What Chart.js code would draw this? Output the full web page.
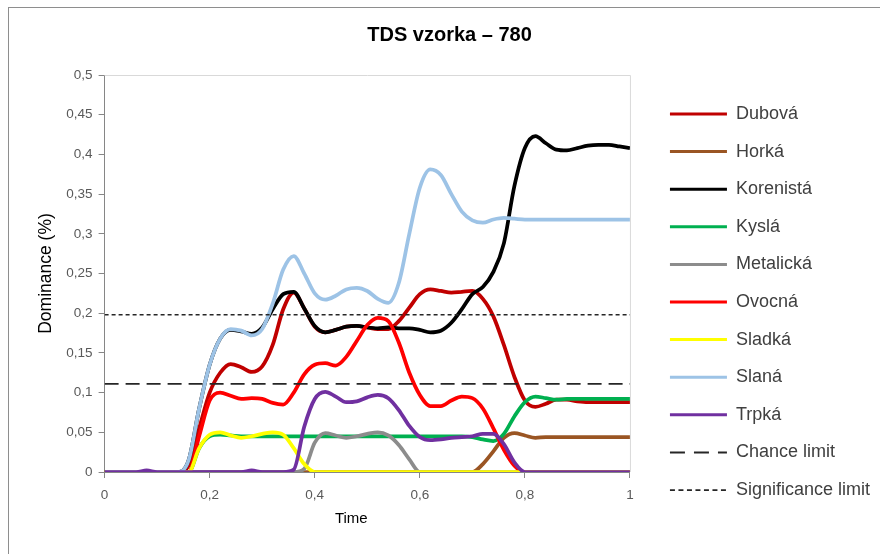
<!DOCTYPE html>
<html>
<head>
<meta charset="utf-8">
<script src="https://cdn.jsdelivr.net/npm/chart.js@4.4.1/dist/chart.umd.min.js"></script>
<style>
  html, body { margin: 0; padding: 0; background: #ffffff; overflow: hidden; width: 880px; height: 554px; }
  #frame { position: absolute; left: 8px; top: 7px; width: 900px; height: 600px; border-left: 1px solid #8e8e8e; border-top: 1px solid #8e8e8e; }
  #c { position: absolute; top: 8px; display: block; }
</style>
</head>
<body>
<div id="frame"></div>
<canvas id="c"></canvas>
<script>
// ---- data ----
const times = [0, 0.02, 0.04, 0.06, 0.08, 0.10, 0.12, 0.14, 0.16, 0.18,
               0.20, 0.22, 0.24, 0.26, 0.28, 0.30, 0.32, 0.34, 0.36, 0.38,
               0.40, 0.42, 0.44, 0.46, 0.48, 0.50, 0.52, 0.54, 0.56, 0.58,
               0.60, 0.62, 0.64, 0.66, 0.68, 0.70, 0.72, 0.74, 0.76, 0.78,
               0.80, 0.82, 0.84, 0.86, 0.88, 0.90, 0.92, 0.94, 0.96, 0.98, 1.00];

const dubova = [0, 0, 0, 0, 0, 0, 0, 0, 0.008, 0.055,
                0.1, 0.125, 0.136, 0.132, 0.126, 0.133, 0.16, 0.205, 0.226, 0.206,
                0.183, 0.176, 0.179, 0.183, 0.184, 0.182, 0.18, 0.18, 0.19, 0.207,
                0.224, 0.23, 0.228, 0.226, 0.227, 0.228, 0.218, 0.196, 0.16, 0.12,
                0.09, 0.082, 0.086, 0.091, 0.091, 0.089, 0.088, 0.088, 0.088, 0.088, 0.088];
const horka = [0, 0, 0, 0, 0, 0, 0, 0, 0, 0,
               0, 0, 0, 0, 0, 0, 0, 0, 0, 0,
               0, 0, 0, 0, 0, 0, 0, 0, 0, 0,
               0, 0, 0, 0, 0, 0, 0.01, 0.026, 0.043, 0.049,
               0.046, 0.043, 0.044, 0.044, 0.044, 0.044, 0.044, 0.044, 0.044, 0.044, 0.044];
const korenista = [0, 0, 0, 0, 0, 0, 0, 0, 0.015, 0.08,
                   0.135, 0.168, 0.179, 0.177, 0.174, 0.182, 0.205, 0.224, 0.227, 0.206,
                   0.184, 0.176, 0.179, 0.183, 0.184, 0.182, 0.181, 0.182, 0.181, 0.181,
                   0.179, 0.176, 0.178, 0.188, 0.205, 0.224, 0.233, 0.252, 0.288, 0.36,
                   0.408, 0.423, 0.414, 0.406, 0.405, 0.408, 0.411, 0.412, 0.412, 0.41, 0.408];
const kysla = [0, 0, 0, 0, 0, 0, 0, 0, 0, 0.03,
               0.045, 0.047, 0.046, 0.045, 0.045, 0.045, 0.045, 0.045, 0.045, 0.045,
               0.045, 0.045, 0.045, 0.045, 0.045, 0.045, 0.045, 0.045, 0.045, 0.045,
               0.045, 0.045, 0.045, 0.045, 0.045, 0.044, 0.041, 0.039, 0.048, 0.07,
               0.088, 0.095, 0.093, 0.091, 0.092, 0.092, 0.092, 0.092, 0.092, 0.092, 0.092];
const metalicka = [0, 0, 0, 0, 0, 0, 0, 0, 0, 0,
                   0, 0, 0, 0, 0, 0, 0, 0, 0, 0.004,
                   0.037, 0.049, 0.046, 0.043, 0.045, 0.048, 0.05, 0.046, 0.034, 0.016,
                   0, 0, 0, 0, 0, 0, 0, 0, 0, 0,
                   0, 0, 0, 0, 0, 0, 0, 0, 0, 0, 0];
const ovocna = [0, 0, 0, 0, 0, 0, 0, 0, 0, 0.045,
                0.09, 0.1, 0.096, 0.092, 0.093, 0.092, 0.087, 0.085, 0.1, 0.123,
                0.135, 0.137, 0.134, 0.145, 0.165, 0.185, 0.194, 0.19, 0.163, 0.125,
                0.097, 0.083, 0.083, 0.09, 0.095, 0.093, 0.08, 0.055, 0.028, 0.008,
                0, 0, 0, 0, 0, 0, 0, 0, 0, 0, 0];
const sladka = [0, 0, 0, 0, 0, 0, 0, 0, 0, 0.03,
                0.047, 0.05, 0.046, 0.043, 0.045, 0.048, 0.05, 0.047, 0.03, 0.01,
                0, 0, 0, 0, 0, 0, 0, 0, 0, 0,
                0, 0, 0, 0, 0, 0, 0, 0, 0, 0,
                0, 0, 0, 0, 0, 0, 0, 0, 0, 0, 0];
const slana = [0, 0, 0, 0, 0, 0, 0, 0, 0.015, 0.08,
               0.135, 0.168, 0.18, 0.178, 0.172, 0.18, 0.212, 0.255, 0.272, 0.25,
               0.225, 0.217, 0.222, 0.23, 0.232, 0.228, 0.218, 0.213, 0.238, 0.3,
               0.358, 0.381, 0.374, 0.35, 0.328, 0.317, 0.314, 0.318, 0.32, 0.319,
               0.318, 0.318, 0.318, 0.318, 0.318, 0.318, 0.318, 0.318, 0.318, 0.318, 0.318];
const trpka = [0, 0, 0, 0, 0.002, 0, 0, 0, 0, 0,
               0, 0, 0, 0, 0.002, 0, 0, 0, 0.003, 0.057,
               0.092, 0.101, 0.095, 0.088, 0.089, 0.094, 0.097, 0.093, 0.078, 0.058,
               0.044, 0.04, 0.041, 0.043, 0.044, 0.045, 0.048, 0.048, 0.035, 0.012,
               0, 0, 0, 0, 0, 0, 0, 0, 0, 0, 0];

const chanceLimit = 0.111;
const significanceLimit = 0.198;
const limitSpan = [0, 1];

const seriesNames = ['Dubová', 'Horká', 'Korenistá', 'Kyslá', 'Metalická', 'Ovocná', 'Sladká', 'Slaná', 'Trpká'];
const seriesValues = [dubova, horka, korenista, kysla, metalicka, ovocna, sladka, slana, trpka];
const seriesColors = ['#C00000', '#9A5523', '#000000', '#00B050', '#8C8C8C', '#FF0000', '#FFFF00', '#9DC3E6', '#7030A0'];

const yTickLabels = ['0', '0,05', '0,1', '0,15', '0,2', '0,25', '0,3', '0,35', '0,4', '0,45', '0,5'];
const xTickLabels = ['0', '0,2', '0,4', '0,6', '0,8', '1'];

const titleText = 'TDS vzorka – 780';
const xTitle = 'Time';
const yTitle = 'Dominance (%)';

// ---- build datasets ----
const datasets = seriesNames.map((name, i) => ({
  label: name,
  data: times.map((t, k) => ({ x: t, y: seriesValues[i][k] })),
  borderColor: seriesColors[i],
  backgroundColor: seriesColors[i],
  borderWidth: 3.75,
  pointRadius: 0,
  pointHoverRadius: 0,
  cubicInterpolationMode: 'monotone',
  borderJoinStyle: 'round',
  legendWidth: 3,
  order: -i
}));
datasets.push({
  label: 'Chance limit',
  data: limitSpan.map(t => ({ x: t, y: chanceLimit })),
  borderColor: '#262626', backgroundColor: '#262626',
  borderWidth: 1.75, borderDash: [14, 7], pointRadius: 0,
  legendWidth: 2, legendDash: [15, 9], order: -9
});
datasets.push({
  label: 'Significance limit',
  data: limitSpan.map(t => ({ x: t, y: significanceLimit })),
  borderColor: '#262626', backgroundColor: '#262626',
  borderWidth: 1.5, borderDash: [4, 3], pointRadius: 0,
  legendWidth: 1.75, legendDash: [5, 3.5], order: -10
});

// ---- layout (page pixels of the reference) ----
const FONT = "'Liberation Sans', Arial, sans-serif";
const legendFontSize = 18, legendPad = 19.6, legendBox = 57;
const measureCtx = document.createElement('canvas').getContext('2d');
measureCtx.font = legendFontSize + 'px ' + FONT;
const maxText = Math.max(...datasets.map(d => measureCtx.measureText(d.label).width));
const legendW = Math.ceil(legendPad + legendBox + legendFontSize / 2 + maxText + 10);
const plotLeft = 105, plotRight = 630, plotTop = 75, plotBottom = 472, legendLineStart = 670, titleCenter = 450;
const y2w = legendLineStart - plotRight - legendPad;
const canvasW = Math.round(2 * ((plotRight - titleCenter) + y2w + legendW));
const X0 = plotRight + y2w + legendW - canvasW;
const Y0 = 8;
const canvasH = 588;
const yTitleSize = 17.5;
const titleSize = 20;

const cv = document.getElementById('c');
cv.width = canvasW; cv.height = canvasH;
cv.style.width = canvasW + 'px'; cv.style.height = canvasH + 'px';
cv.style.left = X0 + 'px';

const plotBorder = {
  id: 'plotBorder',
  beforeDatasetsDraw(chart) {
    const { ctx, chartArea: a } = chart;
    ctx.save();
    ctx.strokeStyle = '#D9D9D9';
    ctx.lineWidth = 1;
    ctx.beginPath();
    ctx.moveTo(a.left, a.top + 0.5);
    ctx.lineTo(a.right + 0.5, a.top + 0.5);
    ctx.lineTo(a.right + 0.5, a.bottom);
    ctx.stroke();
    ctx.restore();
  }
};
const xAxisTitle = {
  id: 'xAxisTitle',
  afterDraw(chart) {
    const { ctx, chartArea: a } = chart;
    ctx.save();
    ctx.fillStyle = '#000000';
    ctx.font = '15px ' + FONT;
    ctx.textAlign = 'center';
    ctx.textBaseline = 'middle';
    ctx.fillText(xTitle, (a.left + a.right) / 2 - 16, 519 - Y0);
    ctx.restore();
  }
};

Chart.defaults.font.family = FONT;
Chart.defaults.color = '#595959';

new Chart(cv, {
  type: 'line',
  data: { datasets },
  plugins: [plotBorder, xAxisTitle],
  options: {
    responsive: false,
    animation: false,
    events: [],
    layout: { padding: 0 },
    plugins: {
      title: {
        display: true, text: titleText, color: '#000000',
        font: { size: titleSize, weight: 'bold' },
        padding: { top: 15, bottom: (plotTop - Y0) - 15 - titleSize * 1.2 }
      },
      legend: {
        display: true, position: 'right', align: 'center', maxWidth: legendW,
        labels: {
          usePointStyle: true, pointStyle: 'line', pointStyleWidth: legendBox,
          color: '#404040', font: { size: legendFontSize }, padding: legendPad,
          sort: (a, b) => a.datasetIndex - b.datasetIndex,
          generateLabels(chart) {
            const items = Chart.defaults.plugins.legend.labels.generateLabels(chart);
            items.forEach(it => {
              const ds = chart.data.datasets[it.datasetIndex];
              it.lineDash = ds.legendDash || [];
              it.lineWidth = ds.legendWidth;
              it.strokeStyle = ds.borderColor;
              it.lineCap = 'butt';
            });
            return items;
          }
        }
      },
      tooltip: { enabled: false }
    },
    scales: {
      x: {
        type: 'linear', min: 0, max: 1,
        afterFit: s => { s.height = canvasH - (plotBottom - Y0); },
        ticks: { stepSize: 0.2, padding: 9, font: { size: 13.5 }, color: '#595959',
                 callback: (v, i) => xTickLabels[i] },
        grid: { drawOnChartArea: false, drawTicks: true, tickLength: 6, color: '#868686' },
        border: { color: '#868686', width: 1 },
        title: { display: false }
      },
      y: {
        type: 'linear', min: 0, max: 0.5,
        afterFit: s => { s.width = plotLeft - X0; },
        ticks: { stepSize: 0.05, padding: 6, font: { size: 13.5 }, color: '#595959',
                 callback: (v, i) => yTickLabels[i] },
        grid: { drawOnChartArea: false, drawTicks: true, tickLength: 6, color: '#868686' },
        border: { color: '#868686', width: 1 },
        title: { display: true, text: yTitle, color: '#000000', font: { size: yTitleSize },
                 padding: { top: (47 - X0) - yTitleSize * 0.6, bottom: 0 } }
      },
      y2: {
        type: 'linear', position: 'right', display: true,
        afterFit: s => { s.width = y2w; },
        ticks: { display: false },
        grid: { display: false, drawTicks: false },
        border: { display: false }
      }
    }
  }
});
</script>
</body>
</html>
